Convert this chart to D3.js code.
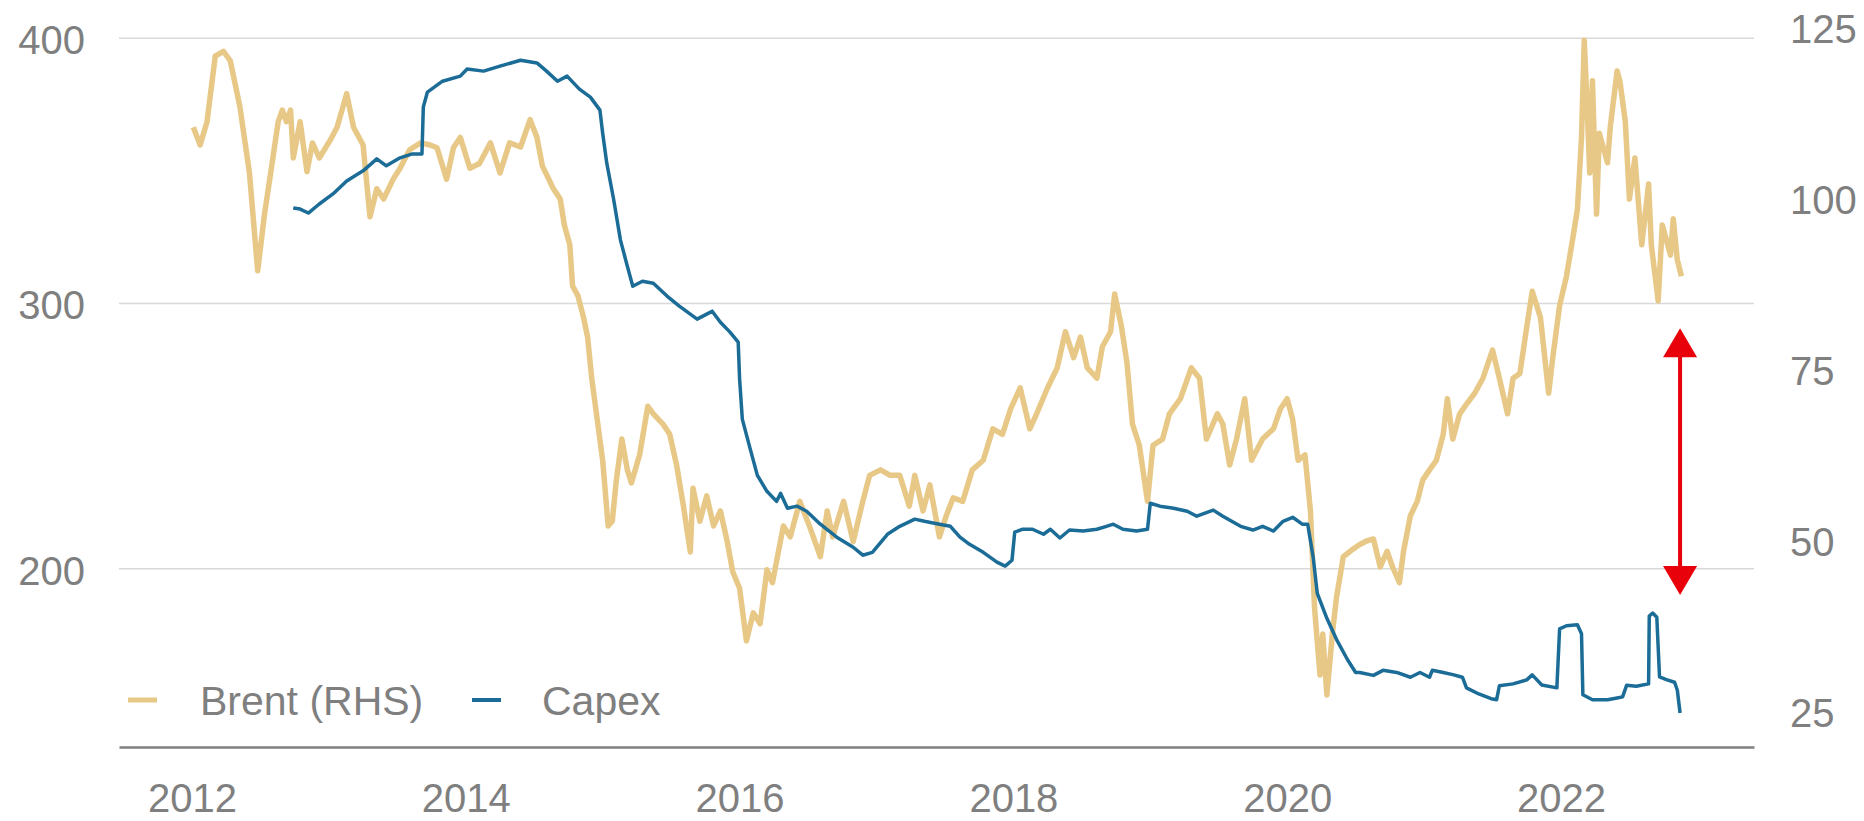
<!DOCTYPE html>
<html>
<head>
<meta charset="utf-8">
<script src="https://cdn.jsdelivr.net/npm/d3@7"></script>
<style>
  html, body { margin: 0; padding: 0; background: #ffffff; }
  svg { display: block; }
  text { font-family: "Liberation Sans", Arial, sans-serif; fill: #7f7f7f; }
</style>
</head>
<body>
<svg id="chart" width="1864" height="821"></svg>
<script>
// Brent crude, USD/bbl (right-hand axis), dated in decimal years
const brentYears = [
  2012.01, 2012.06, 2012.11, 2012.17, 2012.23, 2012.28, 2012.35, 2012.42, 2012.48, 2012.53,
  2012.58, 2012.63, 2012.66, 2012.69, 2012.72, 2012.74, 2012.79, 2012.84, 2012.88, 2012.93,
  2013.01, 2013.06, 2013.13, 2013.18, 2013.25, 2013.30, 2013.35, 2013.40, 2013.47, 2013.52,
  2013.59, 2013.67, 2013.74, 2013.79, 2013.86, 2013.91, 2013.96, 2014.03, 2014.10, 2014.18,
  2014.25, 2014.32, 2014.40, 2014.47, 2014.52, 2014.56, 2014.64, 2014.69, 2014.72, 2014.76,
  2014.78, 2014.82, 2014.86, 2014.89, 2014.92, 2014.96, 2015.00, 2015.04, 2015.07, 2015.10,
  2015.14, 2015.18, 2015.21, 2015.27, 2015.33, 2015.37, 2015.44, 2015.49, 2015.54, 2015.59,
  2015.64, 2015.66, 2015.71, 2015.76, 2015.81, 2015.86, 2015.91, 2015.95, 2016.00, 2016.05,
  2016.10, 2016.15, 2016.20, 2016.24, 2016.32, 2016.37, 2016.44, 2016.51, 2016.59, 2016.64,
  2016.68, 2016.76, 2016.83, 2016.90, 2016.95, 2017.03, 2017.10, 2017.17, 2017.24, 2017.28,
  2017.34, 2017.39, 2017.46, 2017.51, 2017.56, 2017.63, 2017.70, 2017.78, 2017.85, 2017.92,
  2017.98, 2018.05, 2018.12, 2018.17, 2018.25, 2018.32, 2018.38, 2018.44, 2018.49, 2018.54,
  2018.61, 2018.65, 2018.71, 2018.74, 2018.79, 2018.83, 2018.87, 2018.92, 2018.98, 2019.02,
  2019.09, 2019.14, 2019.22, 2019.30, 2019.36, 2019.41, 2019.49, 2019.53, 2019.58, 2019.63,
  2019.69, 2019.74, 2019.82, 2019.90, 2019.95, 2020.00, 2020.04, 2020.08, 2020.13, 2020.17,
  2020.20, 2020.24, 2020.26, 2020.29, 2020.33, 2020.36, 2020.41, 2020.48, 2020.53, 2020.58,
  2020.63, 2020.68, 2020.73, 2020.77, 2020.82, 2020.85, 2020.90, 2020.95, 2020.99, 2021.04,
  2021.09, 2021.14, 2021.17, 2021.21, 2021.26, 2021.31, 2021.37, 2021.43, 2021.50, 2021.55,
  2021.61, 2021.65, 2021.70, 2021.75, 2021.79, 2021.85, 2021.91, 2021.94, 2021.99, 2022.04,
  2022.09, 2022.12, 2022.15, 2022.17, 2022.19, 2022.21, 2022.23, 2022.26, 2022.28, 2022.34,
  2022.36, 2022.41, 2022.43, 2022.47, 2022.50, 2022.54, 2022.59, 2022.64, 2022.66, 2022.71,
  2022.74, 2022.80, 2022.82, 2022.85, 2022.88
];
const brentValues = [
  110.5, 107.9, 111.3, 120.9, 121.6, 120.2, 113.5, 103.8, 89.5, 97.8,
  104.5, 111.3, 113.0, 111.3, 113.0, 106.0, 111.3, 104.0, 108.2, 106.0,
  108.6, 110.5, 115.4, 110.5, 107.9, 97.4, 101.5, 100.0, 102.9, 104.5,
  107.2, 108.2, 107.9, 107.5, 102.9, 107.5, 109.0, 104.5, 105.2, 108.2,
  103.8, 108.2, 107.6, 111.6, 109.0, 104.8, 101.5, 100.0, 96.2, 93.3,
  87.3, 85.8, 82.7, 79.8, 73.8, 67.8, 61.8, 52.2, 52.9, 58.9,
  64.9, 60.4, 58.5, 62.6, 69.7, 68.6, 67.1, 65.6, 61.1, 55.1,
  48.4, 57.7, 52.9, 56.6, 52.2, 54.4, 49.9, 45.5, 43.1, 35.4,
  39.5, 37.9, 45.8, 43.9, 52.2, 50.6, 55.8, 52.2, 47.7, 54.4,
  50.6, 55.8, 49.9, 55.8, 59.6, 60.4, 59.6, 59.6, 55.1, 59.6,
  54.4, 58.2, 50.6, 53.7, 56.3, 55.8, 60.4, 61.8, 66.4, 65.6,
  69.3, 72.4, 66.4, 68.6, 72.4, 75.3, 80.6, 76.8, 79.8, 75.3,
  73.8, 78.4, 80.6, 86.1, 81.3, 76.0, 67.1, 64.0, 55.8, 64.0,
  64.9, 68.6, 70.8, 75.3, 73.8, 64.9, 68.6, 67.1, 61.1, 64.9,
  70.8, 61.8, 64.9, 66.4, 69.3, 70.8, 67.8, 61.8, 62.6, 54.4,
  40.2, 30.4, 36.4, 27.5, 36.4, 41.7, 47.7, 48.8, 49.5, 50.0,
  50.3, 46.2, 48.5, 46.2, 43.9, 48.5, 53.7, 55.8, 58.9, 60.4,
  61.8, 65.6, 70.8, 64.9, 68.6, 70.0, 71.6, 73.8, 77.9, 73.8,
  68.6, 73.8, 74.5, 81.3, 86.5, 82.7, 71.6, 76.8, 84.4, 88.7,
  94.7, 98.5, 108.9, 123.2, 114.2, 103.8, 117.3, 97.8, 109.6, 105.3,
  110.5, 118.7, 117.3, 111.3, 100.0, 106.0, 93.3, 102.2, 93.3, 85.1,
  96.2, 91.8, 97.1, 91.1, 88.7
];

// Upstream capex (left-hand axis), dated in decimal years
const capexYears = [
  2012.74, 2012.79, 2012.85, 2012.93, 2013.03, 2013.13, 2013.25, 2013.35, 2013.42, 2013.52,
  2013.61, 2013.68, 2013.69, 2013.72, 2013.83, 2013.96, 2014.01, 2014.13, 2014.25, 2014.40,
  2014.52, 2014.59, 2014.67, 2014.74, 2014.83, 2014.91, 2014.98, 2015.00, 2015.03, 2015.08,
  2015.13, 2015.18, 2015.22, 2015.29, 2015.37, 2015.47, 2015.56, 2015.69, 2015.76, 2015.80,
  2015.86, 2015.93, 2015.99, 2016.00, 2016.02, 2016.08, 2016.13, 2016.20, 2016.27, 2016.30,
  2016.35, 2016.42, 2016.49, 2016.59, 2016.71, 2016.83, 2016.90, 2016.97, 2017.08, 2017.17,
  2017.28, 2017.35, 2017.46, 2017.54, 2017.61, 2017.68, 2017.78, 2017.88, 2017.94, 2017.99,
  2018.01, 2018.07, 2018.14, 2018.22, 2018.27, 2018.34, 2018.41, 2018.51, 2018.61, 2018.68,
  2018.73, 2018.80, 2018.90, 2018.98, 2019.00, 2019.07, 2019.17, 2019.27, 2019.34, 2019.46,
  2019.53, 2019.66, 2019.75, 2019.82, 2019.90, 2019.97, 2020.04, 2020.11, 2020.15, 2020.19,
  2020.22, 2020.29, 2020.36, 2020.44, 2020.50, 2020.53, 2020.63, 2020.70, 2020.80, 2020.90,
  2020.97, 2021.04, 2021.06, 2021.14, 2021.21, 2021.28, 2021.31, 2021.40, 2021.49, 2021.53,
  2021.55, 2021.65, 2021.75, 2021.79, 2021.86, 2021.97, 2021.99, 2022.04, 2022.12, 2022.15,
  2022.16, 2022.23, 2022.34, 2022.41, 2022.45, 2022.48, 2022.55, 2022.64, 2022.645, 2022.67,
  2022.70, 2022.72, 2022.77, 2022.83, 2022.85, 2022.87
];
const capexValues = [
  335.8, 335.4, 333.9, 337.3, 341.1, 346.0, 349.8, 354.3, 351.7, 354.7,
  356.2, 356.2, 373.9, 379.5, 383.6, 385.5, 388.2, 387.4, 389.3, 391.5,
  390.5, 387.4, 383.6, 385.5, 380.6, 377.6, 372.7, 364.0, 352.7, 339.1,
  323.7, 313.9, 306.3, 308.2, 307.4, 302.6, 298.8, 293.9, 295.8, 296.9,
  292.7, 289.0, 285.2, 271.6, 256.2, 244.5, 235.0, 229.0, 225.2, 228.2,
  222.6, 223.4, 221.5, 216.6, 211.7, 207.9, 204.9, 206.0, 212.8, 215.8,
  218.5, 217.7, 216.6, 215.8, 211.7, 209.0, 206.0, 202.3, 200.8, 203.0,
  213.6, 214.7, 214.7, 212.8, 214.7, 211.4, 214.4, 214.0, 214.7, 215.8,
  216.6, 214.7, 214.0, 214.7, 224.5, 223.4, 222.6, 221.5, 219.6, 221.9,
  219.6, 215.8, 214.4, 215.8, 214.0, 217.7, 219.2, 216.6, 216.6, 204.1,
  190.5, 181.1, 173.2, 165.6, 160.7, 160.7, 159.6, 161.5, 160.7, 158.9,
  160.7, 158.9, 161.5, 160.7, 159.9, 158.9, 154.9, 152.6, 150.8, 150.4,
  155.7, 156.4, 157.9, 159.8, 156.0, 154.9, 177.1, 178.3, 178.7, 175.3,
  152.3, 150.4, 150.4, 151.1, 151.5, 155.9, 155.5, 156.4, 182.0, 183.1,
  181.5, 159.0, 158.0, 157.0, 154.0, 145.4
];

// Axis ticks and legend
const yearTicks = [2012, 2014, 2016, 2018, 2020, 2022];
const capexTicks = [200, 300, 400];
const brentTicks = [25, 50, 75, 100, 125];
const seriesNames = ["Brent (RHS)", "Capex"];

// Gap marker between the two series (Brent units)
const gapYear = 2022.87;
const gapTop = 81.1;
const gapBottom = 42.1;

const colors = { brent: "#E8C886", capex: "#1B6C97", grid: "#D9D9D9", axis: "#7F7F7F", gap: "#E8000B" };
const fontFamily = "'Liberation Sans', Arial, sans-serif";
const fontSize = 40;

const plot = { left: 119, right: 1754, top: 37.7, bottom: 747 };

const svg = d3.select("#chart");

const x = d3.scaleLinear().domain([2011.467, 2023.41]).range([plot.left, plot.right]);
const yCapex = d3.scaleLinear().domain([132.6, 400]).range([plot.bottom, plot.top]);
const yBrent = d3.scaleLinear().domain([25, 125]).range([712, 28]);

// Horizontal gridlines on the capex scale
svg.append("g")
  .attr("transform", `translate(${plot.left},0)`)
  .call(d3.axisLeft(yCapex).tickValues(capexTicks).tickSize(-(plot.right - plot.left)).tickFormat(""))
  .call(g => g.select(".domain").remove())
  .call(g => g.selectAll("line").attr("stroke", colors.grid).attr("stroke-width", 1.5));

// Left axis labels
svg.append("g")
  .attr("transform", `translate(${plot.left},0)`)
  .call(d3.axisLeft(yCapex).tickValues(capexTicks).tickSize(0).tickPadding(34).tickFormat(d3.format("d")))
  .call(g => g.select(".domain").remove())
  .call(g => g.selectAll("text").attr("font-size", fontSize).attr("dy", "0.4em").attr("fill", "#7f7f7f")
    .attr("font-family", fontFamily));

// Right axis labels
svg.append("g")
  .attr("transform", `translate(${plot.right},0)`)
  .call(d3.axisRight(yBrent).tickValues(brentTicks).tickSize(0).tickPadding(36).tickFormat(d3.format("d")))
  .call(g => g.select(".domain").remove())
  .call(g => g.selectAll("text").attr("font-size", fontSize).attr("dy", "0.36em").attr("fill", "#7f7f7f")
    .attr("font-family", fontFamily));

// Bottom axis
svg.append("g")
  .attr("transform", `translate(0,${plot.bottom})`)
  .call(d3.axisBottom(x).tickValues(yearTicks).tickSize(0).tickSizeOuter(0).tickPadding(37).tickFormat(d3.format("d")))
  .call(g => g.select(".domain").attr("stroke", colors.axis).attr("stroke-width", 2.5))
  .call(g => g.selectAll("text").attr("font-size", fontSize).attr("fill", "#7f7f7f")
    .attr("font-family", fontFamily));

// Series lines
const brentLine = d3.line().x((d, i) => x(brentYears[i])).y(d => yBrent(d)).curve(d3.curveLinear);
const capexLine = d3.line().x((d, i) => x(capexYears[i])).y(d => yCapex(d)).curve(d3.curveLinear);

svg.append("path")
  .datum(brentValues)
  .attr("d", brentLine)
  .attr("fill", "none")
  .attr("stroke", colors.brent)
  .attr("stroke-width", 5.5)
  .attr("stroke-linejoin", "round");

svg.append("path")
  .datum(capexValues)
  .attr("d", capexLine)
  .attr("fill", "none")
  .attr("stroke", colors.capex)
  .attr("stroke-width", 3.5)
  .attr("stroke-linejoin", "round");

// Double-headed arrow marking the gap
const gx = x(gapYear);
const gTop = yBrent(gapTop);
const gBot = yBrent(gapBottom);
const headH = 29, headW = 17;
svg.append("line")
  .attr("x1", gx).attr("x2", gx)
  .attr("y1", gTop + headH - 2).attr("y2", gBot - headH + 2)
  .attr("stroke", colors.gap).attr("stroke-width", 4);
svg.append("path")
  .attr("d", `M${gx},${gTop} L${gx + headW},${gTop + headH} L${gx - headW},${gTop + headH} Z`)
  .attr("fill", colors.gap);
svg.append("path")
  .attr("d", `M${gx},${gBot} L${gx + headW},${gBot - headH} L${gx - headW},${gBot - headH} Z`)
  .attr("fill", colors.gap);

// Legend
const legend = svg.append("g").attr("transform", "translate(128,700)");
const legendItems = [
  { name: seriesNames[0], color: colors.brent, width: 5, dx: 0, tx: 72 },
  { name: seriesNames[1], color: colors.capex, width: 4, dx: 344, tx: 414 }
];
legendItems.forEach(item => {
  legend.append("line")
    .attr("x1", item.dx).attr("x2", item.dx + 29)
    .attr("y1", 0).attr("y2", 0)
    .attr("stroke", item.color).attr("stroke-width", item.width);
  legend.append("text")
    .attr("x", item.tx).attr("y", 0).attr("dy", "0.36em")
    .attr("font-size", 41)
    .attr("font-family", fontFamily)
    .text(item.name);
});
</script>
</body>
</html>
